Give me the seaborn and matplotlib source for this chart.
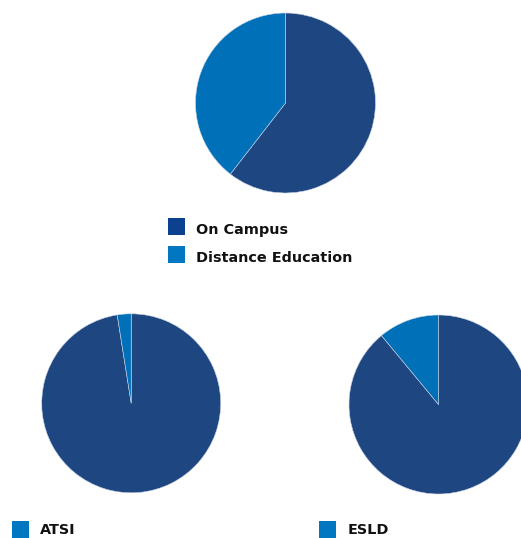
import matplotlib
matplotlib.use("Agg")
import matplotlib.pyplot as plt
from matplotlib.patches import Rectangle
import seaborn as sns

# Enrolment shares (%)
mode_labels = ["On Campus", "Distance Education"]
mode_values = [60.5, 39.5]

atsi_labels = ["Other", "ATSI"]
atsi_values = [97.5, 2.5]

esld_labels = ["Other", "ESLD"]
esld_values = [89.0, 11.0]

sns.set_theme(style="white")
plt.rcParams["font.family"] = ["DejaVu Sans"]

dark_blue = "#1e4680"
light_blue = "#0070b8"
legend_dark = "#0b418e"
legend_light = "#0077c0"

W, H = 521, 538
fig = plt.figure(figsize=(W / 100, H / 100), dpi=100)
fig.patch.set_facecolor("white")


def pie_axes(cx, cy, r):
    return fig.add_axes([(cx - r) / W, 1 - (cy + r) / H, 2 * r / W, 2 * r / H])


def draw_pie(ax, values, colors):
    ax.pie(values, colors=colors, startangle=90, counterclock=False,
           radius=1, wedgeprops=dict(edgecolor="#c8d4e6", linewidth=0.4))
    ax.set_xlim(-1, 1)
    ax.set_ylim(-1, 1)
    ax.set_aspect("equal")
    ax.axis("off")


draw_pie(pie_axes(285.5, 103, 90), mode_values, [dark_blue, light_blue])
draw_pie(pie_axes(131.2, 403.3, 89.5), atsi_values, [dark_blue, light_blue])
draw_pie(pie_axes(438.5, 404.5, 89.5), esld_values, [dark_blue, light_blue])


def legend_item(x, y_top, color, text, baseline):
    fig.add_artist(Rectangle((x / W, 1 - (y_top + 17) / H), 17 / W, 17 / H,
                             transform=fig.transFigure, facecolor=color,
                             edgecolor="none"))
    fig.text((x + 28) / W, 1 - baseline / H, text, fontsize=10.4,
             fontweight="bold", color="#111111", va="baseline", ha="left")


legend_item(168, 218, legend_dark, mode_labels[0], 234.3)
legend_item(168, 246, legend_light, mode_labels[1], 262.3)
legend_item(12.3, 520.5, legend_light, atsi_labels[1], 534.3)
legend_item(319.3, 520.5, legend_light, esld_labels[1], 534.3)

fig.savefig("out.png", dpi=100, facecolor="white")
